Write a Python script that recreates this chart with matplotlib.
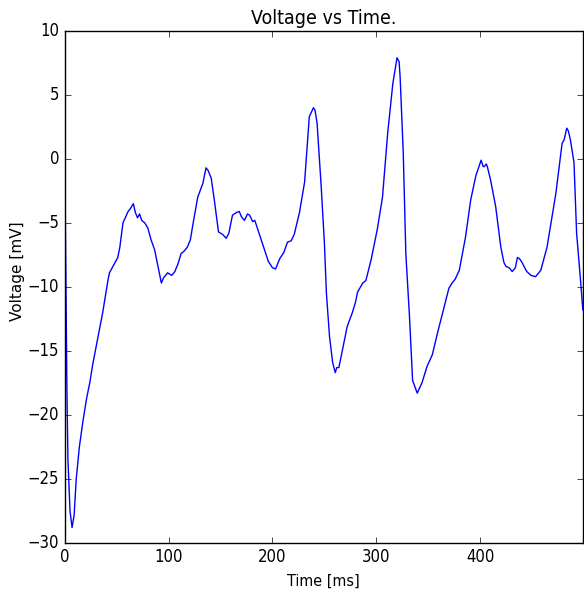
import matplotlib
matplotlib.use('Agg')
import matplotlib.pyplot as plt

# values
time_ms = [0, 1, 2, 3, 5, 7, 9, 11, 14, 17.6, 21, 24, 27, 31, 36.5, 41.5, 43, 47, 51, 53, 56, 61, 63, 66, 68,
           70, 72, 74, 77, 80, 83, 86.5, 90, 93, 95, 99, 103, 106, 109, 112, 115, 118, 121, 123, 128, 133,
           136, 138, 141, 144, 148, 152, 155.5, 158, 161.5, 165, 168, 170, 173, 176, 178, 181, 183, 187.5,
           192, 196, 200, 203, 207, 211, 214.5, 218, 221, 226, 231, 235.5, 239.5, 241, 243, 247, 250, 252,
           255, 258, 260.5, 262, 264, 267.5, 272, 277, 280, 282, 287, 290, 295, 301, 306, 311, 316, 320,
           322, 323, 326, 328.5, 332, 335, 339.5, 344, 349, 354, 359, 364, 370, 373, 376, 380, 386, 391,
           396, 401, 403, 404, 406, 407, 410, 415, 420, 423, 425, 428, 431, 434, 436, 438, 440.5, 443, 445,
           449, 453.5, 458.5, 464.5, 469, 473, 479, 481, 483.5, 485, 487, 490.5, 493, 497, 499]
voltage_mv = [-0.2, -9, -18, -23.5, -27.5, -28.8, -27.8, -25, -22.5, -20.4, -18.7, -17.5, -16, -14.3, -12, -9.5,
              -8.9, -8.3, -7.7, -6.9, -5, -4.1, -3.9, -3.5, -4.2, -4.6, -4.3, -4.8, -5, -5.4, -6.3, -7.1, -8.5,
              -9.7, -9.3, -8.9, -9.1, -8.8, -8.2, -7.4, -7.2, -6.9, -6.3, -5.3, -3, -1.9, -0.7, -0.9, -1.5,
              -3.2, -5.7, -5.9, -6.2, -5.8, -4.4, -4.2, -4.1, -4.5, -4.8, -4.3, -4.4, -4.9, -4.8, -5.9, -7,
              -8, -8.5, -8.6, -7.8, -7.3, -6.5, -6.4, -5.9, -4.2, -1.8, 3.3, 4.0, 3.8, 2.8, -2.2, -6.5, -10.5,
              -13.9, -15.9, -16.7, -16.3, -16.3, -14.9, -13.1, -12, -11.2, -10.4, -9.7, -9.5, -7.9, -5.5, -3,
              2, 5.9, 7.9, 7.6, 6.4, 0.5, -7.4, -12.3, -17.3, -18.3, -17.5, -16.2, -15.3, -13.6, -12, -10.1,
              -9.7, -9.4, -8.7, -6.1, -3.2, -1.3, -0.1, -0.6, -0.6, -0.4, -0.6, -1.6, -3.7, -6.9, -8.1, -8.4,
              -8.5, -8.8, -8.5, -7.7, -7.8, -8.1, -8.5, -8.8, -9.1, -9.2, -8.7, -6.9, -4.7, -2.7, 1.2, 1.5,
              2.4, 2.2, 1.5, -0.3, -5.8, -9.7, -11.8]

plt.style.use('classic')
plt.rcParams['font.stretch'] = 'condensed'
fig = plt.figure(figsize=(5.84, 5.94), dpi=100)
ax = fig.add_axes([0.111, 0.086, 0.887, 0.862])
ax.plot(time_ms, voltage_mv, 'b', linewidth=1)
ax.set_xlim(0, 499)
ax.set_ylim(-30, 10)
ax.set_xticks([0, 100, 200, 300, 400])
ax.set_title('Voltage vs Time.', fontsize=14)
ax.set_xlabel('Time [ms]', fontsize=11.5)
ax.set_ylabel('Voltage [mV]', fontsize=11, fontstretch='normal')
ax.yaxis.set_label_coords(-0.077, 0.53)

fig.savefig('out.png', dpi=100)
